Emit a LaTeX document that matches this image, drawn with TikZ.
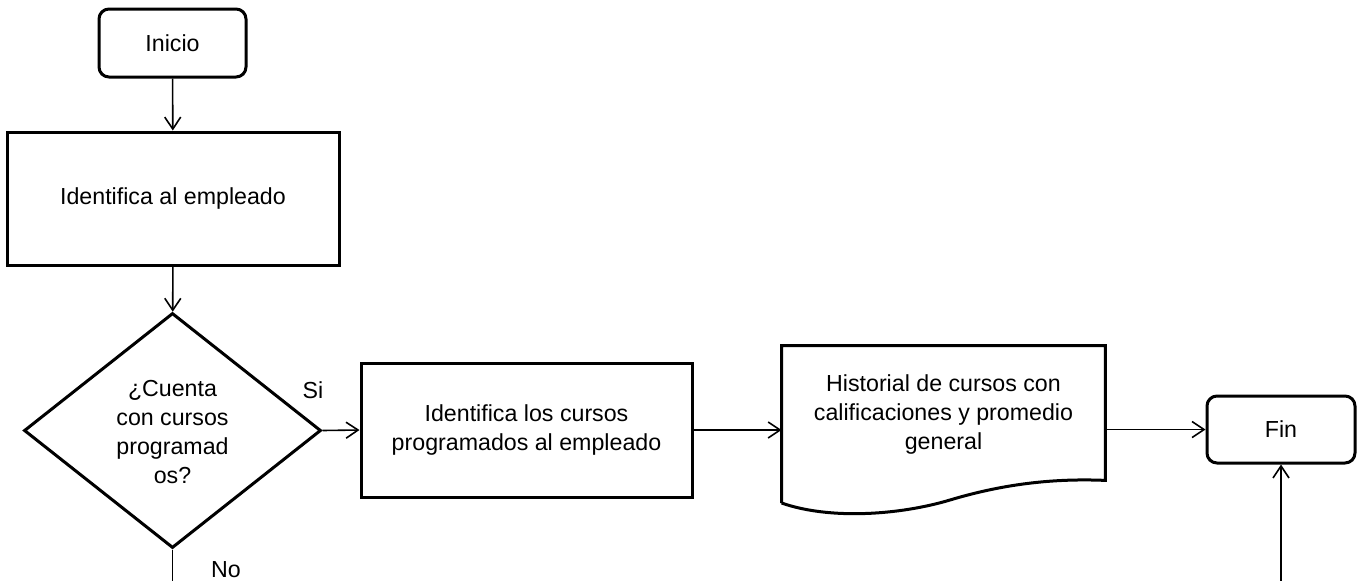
\documentclass[tikz,border=0pt]{standalone}
\usepackage{fontspec}
\setmainfont{Liberation Sans}
\usetikzlibrary{arrows.meta,shapes.geometric}
\begin{document}
\begin{tikzpicture}[x=0.5pt,y=-0.5pt,
  every node/.style={font=\fontsize{11.6pt}{14.5pt}\selectfont, align=center},
  box/.style={draw, line width=1.5pt, rectangle, inner sep=0pt},
  term/.style={draw, line width=1.5pt, rectangle, rounded corners=5pt, inner sep=0pt},
  dec/.style={draw, line width=1.5pt, diamond, inner sep=0pt, minimum width=148.5pt, minimum height=117.5pt},
  conn/.style={line width=0.8pt, -{Straight Barb[length=6pt,width=8pt,line width=0.8pt]}},
  plain/.style={line width=0.8pt},
  lbl/.style={inner sep=0pt}]
\useasboundingbox (0,0) rectangle (1357,580);
\node[term, minimum width=73.5pt, minimum height=34pt] (inicio) at (172.5,43) {Inicio};
\node[box, minimum width=166pt, minimum height=66.5pt] (emp) at (173,198.5) {Identifica al empleado};
\node[dec] (dia) at (172.5,430.5) {};
\node (diatext) at (172.5,432) {¿Cuenta\\con cursos\\programad\\os?};
\node[box, minimum width=165.5pt, minimum height=67pt] (cur) at (526.5,430) {Identifica los cursos\\programados al empleado};
\node[inner sep=0pt, minimum width=161.5pt, minimum height=67pt] (doc) at (943.5,413) {};
\draw[line width=1.5pt, line join=miter] (doc.south west |- 0,503) -- (doc.north west) -- (doc.north east) -- (doc.south east)
  .. controls (1050,478) and (1000,485) .. (950,500)
  .. controls (900,515) and (830,520) .. (doc.south west |- 0,503);
\node (doctext) at (943.5,414) {Historial de cursos con\\calificaciones y promedio\\general};
\node[term, minimum width=74pt, minimum height=33.5pt] (fin) at (1281,429.5) {Fin};
\node[lbl] (si) at (313,390) {Si};
\node[lbl] (no) at (226,570) {No};
\coordinate (noend) at (172.5,582);
\coordinate (finstart) at (1281,582);
\draw[conn] (inicio) -- (emp);
\draw[conn] (emp) -- (dia);
\draw[conn] (dia.east) -- (cur.west);
\draw[conn] (cur.east) -- (cur.east -| doc.west);
\draw[conn] (fin.west -| doc.east) -- (fin.west);
\draw[plain] (dia.south) -- (noend);
\draw[conn] (finstart) -- (fin.south);
\end{tikzpicture}
\end{document}
